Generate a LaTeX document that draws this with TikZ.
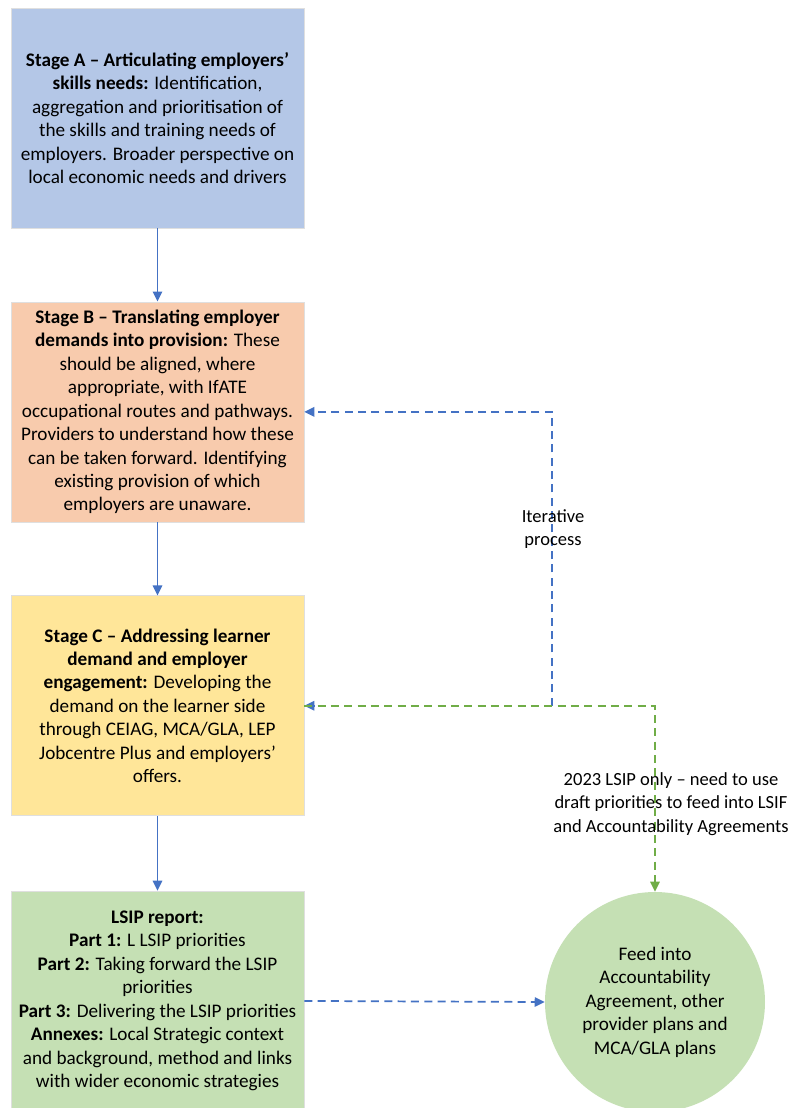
\documentclass[tikz,border=0pt]{standalone}
\usepackage{fontspec}
\setmainfont{Carlito}
\usepackage{xcolor}
\definecolor{stageblue}{HTML}{B4C7E7}
\definecolor{stagepeach}{HTML}{F8CBAD}
\definecolor{stageyellow}{HTML}{FFE699}
\definecolor{stagegreen}{HTML}{C5E0B4}
\definecolor{lineblue}{HTML}{4472C4}
\definecolor{linegreen}{HTML}{70AD47}
\usepackage{tikz}
\usetikzlibrary{arrows.meta, positioning}

\begin{document}
\begin{tikzpicture}[x=0.75pt, y=-0.75pt,
    stagebox/.style={rectangle, draw=gray!25, fill=#1, minimum width=219.75pt, minimum height=165pt, align=center, font=\fontsize{14.4}{17.6}\selectfont, inner sep=2pt},
    flow/.style={-{Triangle[length=7.5pt, width=7pt]}, line width=1.4pt, color=lineblue},
    loopline/.style={dash pattern=on 6pt off 4pt, line width=1.3pt, color=#1},
    note/.style={align=center, font=\fontsize{13.9}{17.6}\selectfont},
]
    \fill[white] (0,0) rectangle (790,1108);
    \useasboundingbox (0,0) rectangle (790,1108);

    \node[stagebox=stageblue] (stA) at (157.5,118) {\textbf{Stage A – Articulating employers’}\\\textbf{skills needs:} Identification,\\aggregation and prioritisation of\\the skills and training needs of\\employers. Broader perspective on\\local economic needs and drivers};
    \node[stagebox=stagepeach, below=55pt of stA] (stB) {\textbf{Stage B – Translating employer}\\\textbf{demands into provision:} These\\should be aligned, where\\appropriate, with IfATE\\occupational routes and pathways.\\Providers to understand how these\\can be taken forward. Identifying\\existing provision of which\\employers are unaware.};
    \node[stagebox=stageyellow, below=55pt of stB] (stC) {\textbf{Stage C – Addressing learner}\\\textbf{demand and employer}\\\textbf{engagement:} Developing the\\demand on the learner side\\through CEIAG, MCA/GLA, LEP\\Jobcentre Plus and employers’\\offers.};
    \node[stagebox=stagegreen, below=56pt of stC] (stD) {\textbf{LSIP report:}\\\textbf{Part 1:} L LSIP priorities\\\textbf{Part 2:} Taking forward the LSIP\\priorities\\\textbf{Part 3:} Delivering the LSIP priorities\\\textbf{Annexes:} Local Strategic context\\and background, method and links\\with wider economic strategies};
    \node[circle, fill=stagegreen, minimum size=165pt, note, font=\fontsize{14.4}{17.6}\selectfont] (feed) at (655,1002) {Feed into\\Accountability\\Agreement, other\\provider plans and\\MCA/GLA plans};

    \draw[flow] (stA) -- (stB);
    \draw[flow] (stB) -- (stC);
    \draw[flow] (stC) -- (stD);

    % Iterative loop
    \coordinate[right=186pt of stC.east] (turnC);
    \coordinate[right=8pt of stC.east] (tipC);
    \draw[loopline=lineblue, -{Triangle[length=7.5pt, width=7pt]}] (turnC) |- (stB.east);
    \draw[lineblue, line width=1.3pt, -{Triangle[length=7.5pt, width=7pt]}] (tipC) -- (stC.east);
    \draw[loopline=linegreen, -{Triangle[length=7.5pt, width=7pt]}] (stC.east) -| (feed.north);
    \draw[loopline=lineblue, -{Triangle[length=7.5pt, width=7pt]}] (stD.east) -- (feed.west);

    % Labels
    \node[note] (iterlbl) at (553,529) {Iterative\\process};
    \node[note] (lsifnote) at (671,804) {2023 LSIP only – need to use\\draft priorities to feed into LSIF\\and Accountability Agreements};
\end{tikzpicture}
\end{document}
